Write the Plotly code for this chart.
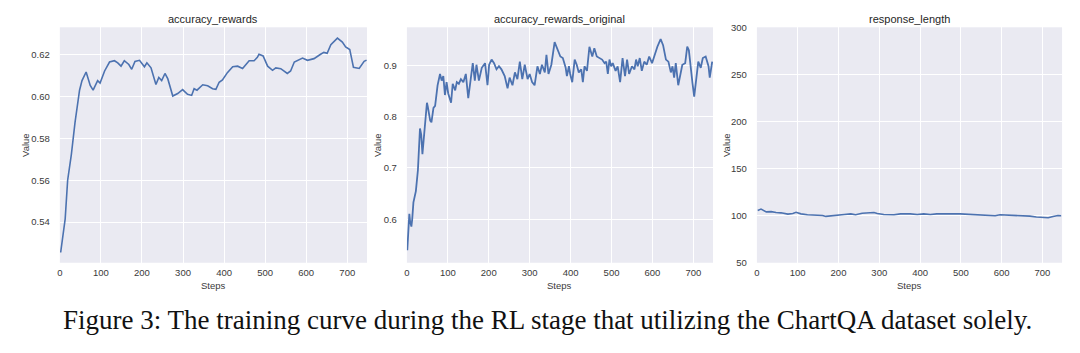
import plotly.graph_objects as go

# ---------------- data ----------------
steps_acc = [2, 7, 13, 19, 28, 37, 48, 54, 64, 74, 81, 92, 98, 109, 121, 133, 141, 149, 157, 168,
             175, 183, 194, 206, 212, 222, 230, 234, 241, 248, 256, 263, 275, 287, 299, 311, 321, 327, 334, 348,
             360, 372, 380, 388, 396, 408, 421, 433, 445, 461, 473, 481, 485, 495, 506, 518, 526, 538, 554, 562,
             571, 591, 603, 619, 635, 643, 651, 660, 676, 688, 696, 706, 715, 729, 741, 747]
acc_rewards = [0.5254, 0.5331, 0.5415, 0.5600, 0.5723, 0.5877, 0.6031, 0.6077, 0.6118, 0.6054,
               0.6031, 0.6077, 0.6065, 0.6123, 0.6166, 0.6172, 0.6162, 0.6146, 0.6172, 0.6154,
               0.6131, 0.6169, 0.6174, 0.6143, 0.6162, 0.6138, 0.6092, 0.6058, 0.6092, 0.6077,
               0.6111, 0.6085, 0.6003, 0.6015, 0.6034, 0.6011, 0.6006, 0.6038, 0.6031, 0.6057,
               0.6052, 0.6038, 0.6035, 0.6069, 0.6080, 0.6115, 0.6143, 0.6146, 0.6135, 0.6172,
               0.6172, 0.6188, 0.6203, 0.6195, 0.6146, 0.6126, 0.6138, 0.6134, 0.6111, 0.6123,
               0.6166, 0.6185, 0.6174, 0.6182, 0.6203, 0.6212, 0.6208, 0.6249, 0.6280, 0.6261,
               0.6238, 0.6226, 0.6141, 0.6135, 0.6169, 0.6175]

steps_orig = [1, 3, 6, 8, 11, 13, 16, 22, 27, 32, 35, 38, 45, 49, 51, 57, 60, 65, 69, 75,
              81, 85, 89, 93, 97, 101, 108, 112, 118, 122, 127, 132, 138, 144, 150, 156, 161, 166, 170, 176,
              183, 191, 197, 201, 207, 213, 219, 225, 231, 239, 246, 251, 258, 264, 270, 276, 282, 288, 295, 300,
              306, 312, 319, 325, 330, 337, 341, 346, 353, 361, 369, 375, 381, 388, 391, 396, 399, 404, 410, 415,
              420, 426, 430, 434, 440, 446, 453, 458, 464, 470, 477, 483, 487, 491, 495, 499, 503, 510, 515, 521,
              527, 533, 538, 543, 550, 556, 560, 564, 569, 574, 580, 586, 592, 599, 604, 612, 620, 626, 633, 639,
              645, 649, 653, 657, 663, 668, 673, 680, 685, 689, 693, 698, 702, 706, 712, 718, 723, 730, 737, 740,
              746]
acc_rewards_original = [0.540, 0.575, 0.611, 0.595, 0.586, 0.600, 0.633, 0.655, 0.696, 0.777,
                        0.765, 0.727, 0.789, 0.827, 0.820, 0.792, 0.789, 0.817, 0.821, 0.861,
                        0.883, 0.870, 0.879, 0.842, 0.867, 0.845, 0.827, 0.864, 0.851, 0.867,
                        0.864, 0.873, 0.867, 0.883, 0.836, 0.870, 0.904, 0.870, 0.901, 0.870,
                        0.895, 0.904, 0.861, 0.901, 0.911, 0.904, 0.892, 0.898, 0.892, 0.879,
                        0.855, 0.876, 0.861, 0.886, 0.873, 0.907, 0.873, 0.901, 0.873, 0.883,
                        0.867, 0.861, 0.898, 0.883, 0.901, 0.886, 0.920, 0.883, 0.901, 0.945,
                        0.929, 0.917, 0.914, 0.895, 0.879, 0.898, 0.883, 0.867, 0.911, 0.901,
                        0.886, 0.892, 0.867, 0.898, 0.889, 0.936, 0.917, 0.933, 0.917, 0.914,
                        0.911, 0.904, 0.907, 0.883, 0.911, 0.898, 0.904, 0.889, 0.898, 0.867,
                        0.914, 0.879, 0.911, 0.883, 0.898, 0.892, 0.911, 0.898, 0.914, 0.889,
                        0.907, 0.901, 0.917, 0.904, 0.917, 0.936, 0.951, 0.939, 0.911, 0.907,
                        0.886, 0.898, 0.876, 0.904, 0.861, 0.883, 0.901, 0.904, 0.936, 0.929,
                        0.895, 0.864, 0.839, 0.870, 0.907, 0.895, 0.914, 0.917, 0.898, 0.876,
                        0.907]

steps_len = [2, 10, 23, 35, 47, 59, 76, 88, 96, 108, 124, 149, 161, 169, 181, 198, 214, 230, 242, 258,
             279, 287, 295, 311, 336, 352, 376, 393, 409, 425, 441, 458, 474, 498, 523, 547, 571, 584, 596, 620,
             637, 653, 669, 685, 701, 714, 726, 738, 746]
response_length = [105.6, 107.0, 104.0, 104.3, 103.3, 103.0, 101.6, 102.3, 103.6, 101.9,
                   100.9, 100.5, 100.2, 99.2, 99.9, 100.5, 101.2, 101.9, 100.9, 102.6,
                   103.6, 103.3, 102.3, 101.2, 100.9, 101.9, 101.9, 101.2, 101.9, 101.2,
                   101.9, 102.3, 101.9, 101.9, 101.2, 100.9, 100.5, 99.9, 100.9, 100.5,
                   100.2, 100.5, 99.5, 98.5, 98.5, 97.8, 99.2, 100.2, 99.9]

panel_titles = ["accuracy_rewards", "accuracy_rewards_original", "response_length"]
x_ticks = [0, 100, 200, 300, 400, 500, 600, 700]
y_ticks_1 = [0.54, 0.56, 0.58, 0.60, 0.62]
y_ticks_2 = [0.6, 0.7, 0.8, 0.9]
y_ticks_3 = [50, 100, 150, 200, 250, 300]
caption = "Figure 3: The training curve during the RL stage that utilizing the ChartQA dataset solely."

# ---------------- layout helpers ----------------
W, H = 1080, 353
LINE = "#4C72B0"
BG = "#EAEAF2"
TXT = "#3a3a3a"
FONT = "Liberation Sans, Arial, sans-serif"


def fx(p):
    return p / W


def fy(p):
    return 1 - p / H


panels = [(57, 365), (405, 712), (756, 1062)]
top, bottom = 22, 265

fig = go.Figure()
series = [(steps_acc, acc_rewards, 1.6), (steps_orig, acc_rewards_original, 1.8), (steps_len, response_length, 1.6)]
for i, (xs, ys, lw) in enumerate(series):
    sfx = "" if i == 0 else str(i + 1)
    fig.add_trace(go.Scatter(x=xs, y=ys, mode="lines", line=dict(color=LINE, width=lw),
                             xaxis="x" + sfx, yaxis="y" + sfx, showlegend=False, hoverinfo="skip"))

yranges = [[0.5205, 0.6332], [0.5156, 0.9738], [50, 300]]
yticks = [(y_ticks_1, [f"{v:.2f}" for v in y_ticks_1]),
          (y_ticks_2, [f"{v:.1f}" for v in y_ticks_2]),
          (y_ticks_3, [str(v) for v in y_ticks_3])]

layout = dict(width=W, height=H, margin=dict(l=0, r=0, t=0, b=0),
              paper_bgcolor="white", plot_bgcolor=BG, showlegend=False)
for i, (l, r) in enumerate(panels):
    sfx = "" if i == 0 else str(i + 1)
    layout["xaxis" + sfx] = dict(domain=[fx(l), fx(r)], range=[0, 748], anchor="y" + sfx,
                                 tickmode="array", tickvals=x_ticks, ticktext=[str(v) for v in x_ticks],
                                 showgrid=True, gridcolor="white", gridwidth=1, zeroline=False,
                                 showline=False, ticks="", ticklabelstandoff=3,
                                 tickfont=dict(family=FONT, size=9.5, color=TXT))
    layout["yaxis" + sfx] = dict(domain=[fy(bottom), fy(top)], range=yranges[i], anchor="x" + sfx,
                                 tickmode="array", tickvals=yticks[i][0], ticktext=yticks[i][1],
                                 showgrid=True, gridcolor="white", gridwidth=1, zeroline=False,
                                 showline=False, ticks="", ticklabelstandoff=9,
                                 tickfont=dict(family=FONT, size=9.5, color=TXT))

annotations = []
value_x = [22, 375, 725]
for i, (l, r) in enumerate(panels):
    c = (l + r) / 2
    annotations.append(dict(text=panel_titles[i], x=fx(c), y=fy(13), xref="paper", yref="paper",
                            showarrow=False, xanchor="center", yanchor="middle",
                            font=dict(family=FONT, size=11, color="#262626")))
    annotations.append(dict(text="Steps", x=fx(c), y=fy(289), xref="paper", yref="paper",
                            showarrow=False, xanchor="center", yanchor="middle",
                            font=dict(family=FONT, size=9.5, color=TXT)))
    annotations.append(dict(text="Value", x=fx(value_x[i]), y=fy((top + bottom) / 2), xref="paper",
                            yref="paper", showarrow=False, xanchor="center", yanchor="middle",
                            textangle=-90, font=dict(family=FONT, size=9.5, color=TXT)))
annotations.append(dict(text=caption, x=fx(546), y=fy(324), xref="paper", yref="paper",
                        showarrow=False, xanchor="center", yanchor="middle",
                        font=dict(family="Liberation Serif, Times New Roman, serif", size=27, color="#111")))
layout["annotations"] = annotations

fig.update_layout(**layout)
fig.write_html("out.html")
